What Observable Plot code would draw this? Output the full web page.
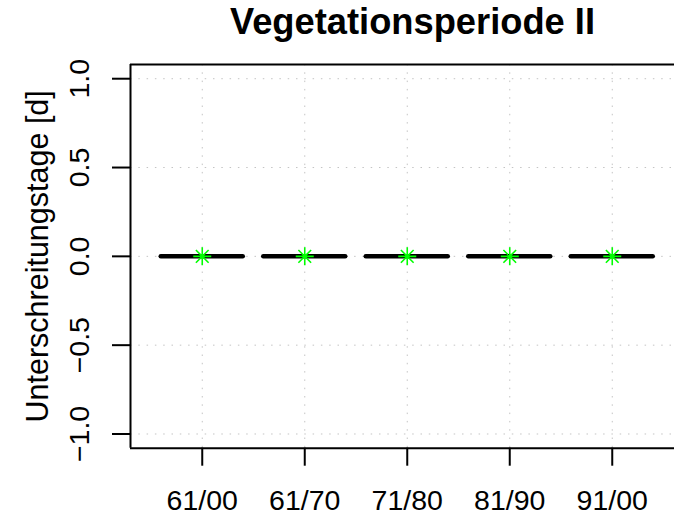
<!DOCTYPE html>
<html>
<head>
<meta charset="utf-8">
<script src="https://cdn.jsdelivr.net/npm/d3@7"></script>
<script src="https://cdn.jsdelivr.net/npm/@observablehq/plot@0.6"></script>
<style>
html, body { margin: 0; padding: 0; background: #fff; overflow: hidden; }
#title { position: relative; width: 674px; height: 50px; }
#title span {
  position: absolute; left: 412.5px; top: 3.6px; transform: translateX(-50%);
  font: bold 36.3px/1 "Liberation Sans", Arial, sans-serif; color: #000; white-space: nowrap;
}
#chart svg { display: block; }
</style>
</head>
<body>
<div id="title"><span>Vegetationsperiode II</span></div>
<div id="chart"></div>
<script>
// ---- data ----
const categories = ["61/00", "61/70", "71/80", "81/90", "91/00"];
const medians = [0, 0, 0, 0, 0];
const means = [0, 0, 0, 0, 0];
const yTicks = [-1, -0.5, 0, 0.5, 1];
const yTickLabels = ["\u22121.0", "\u22120.5", "0.0", "0.5", "1.0"];
const yLabel = "Unterschreitungstage [d]";
const boxWidth = 0.8;
const xDomain = [0.3, 5.7];
const yDomain = [-1.08, 1.08];

const rows = categories.map((c, i) => ({cat: c, pos: i + 1, median: medians[i], mean: means[i]}));
const positions = rows.map(d => d.pos);
const yTickRows = yTicks.map((v, i) => ({v, label: yTickLabels[i]}));

// R pch 8 style asterisk: eight equal arms
const asterisk = {
  draw(context, size) {
    const r = Math.sqrt(size / Math.PI);
    for (let k = 0; k < 4; k++) {
      const a = k * Math.PI / 4;
      const dx = r * Math.cos(a), dy = r * Math.sin(a);
      context.moveTo(-dx, -dy);
      context.lineTo(dx, dy);
    }
  }
};

const font = "Liberation Sans, Arial, sans-serif";
const gridStyle = {stroke: "#c4c4c4", strokeOpacity: 1, strokeWidth: 1, strokeDasharray: "1.5,6.8"};

const plot = Plot.plot({
  width: 674,
  height: 471,
  marginLeft: 130,
  marginRight: -9.5,
  marginTop: 14,
  marginBottom: 73.3,
  x: {domain: xDomain},
  y: {domain: yDomain},
  style: {fontFamily: font, color: "#000", background: "#fff", overflow: "hidden"},
  marks: [
    Plot.gridX(positions, gridStyle),
    Plot.gridY(yTicks, gridStyle),
    Plot.ruleY(rows, {
      y: "median",
      x1: d => d.pos - boxWidth / 2,
      x2: d => d.pos + boxWidth / 2,
      stroke: "#000", strokeWidth: 4.5, strokeLinecap: "round"
    }),
    Plot.dot(rows, {x: "pos", y: "mean", symbol: asterisk, r: 9, stroke: "#00ff00", strokeWidth: 1.6, fill: "none"}),
    // plot box: left, top and bottom edges (the right edge lies beyond the picture)
    Plot.ruleX([xDomain[0]], {stroke: "#000", strokeWidth: 2}),
    Plot.ruleY(yDomain, {x1: xDomain[0], x2: xDomain[1], stroke: "#000", strokeWidth: 2}),
    Plot.axisX(positions, {
      label: null, tickSize: 18, tickPadding: 24, strokeWidth: 2,
      tickFormat: p => categories[p - 1], fontSize: 28.5, fill: "#000"
    }),
    Plot.axisY(yTicks, {label: null, tickSize: 18, strokeWidth: 2, tickFormat: () => ""}),
    Plot.text(yTickRows, {
      y: "v", text: "label", frameAnchor: "left", dx: -42, rotate: -90,
      textAnchor: "middle", lineAnchor: "bottom", fontSize: 28.5, fill: "#000"
    }),
    Plot.text([yLabel], {
      text: d => d, frameAnchor: "left", dx: -83, rotate: -90,
      textAnchor: "middle", lineAnchor: "bottom", fontSize: 30.5, fill: "#000"
    })
  ]
});
document.getElementById("chart").appendChild(plot);
</script>
</body>
</html>
